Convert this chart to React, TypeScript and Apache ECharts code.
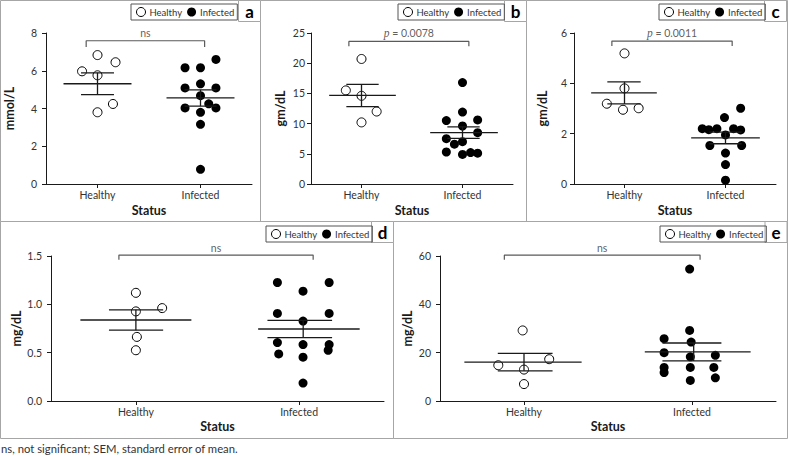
import React, { useEffect, useRef } from "react";
import * as echarts from "echarts";

// ---------- data ----------
const groups = ["Healthy", "Infected"];

// a: mmol/L
const aHealthy = [6.83, 6.45, 5.97, 5.76, 4.24, 3.8];
const aHealthyJit = [0, 0.175, -0.15, 0, 0.15, 0];
const aInfected = [6.6, 6.16, 6.16, 5.31, 5.09, 5.09, 4.68, 4.25, 4.03, 4.03, 3.8, 3.16, 0.78];
const aInfectedJit = [0.15, -0.15, 0, 0, -0.15, 0.15, 0, 0.08, -0.15, 0.15, 0, 0, 0];
const aMean = [5.31, 4.56];
const aSem = [0.58, 0.43];
const aTicks = [0, 8, 2];
const aNote = "ns";

// b: gm/dL
const bHealthy = [20.7, 15.5, 14.6, 12.0, 10.2];
const bHealthyJit = [0, -0.155, 0, 0.15, 0];
const bInfected = [16.8, 11.9, 10.5, 10.6, 9.6, 7.5, 8.5, 7.0, 6.6, 5.3, 4.9, 5.2, 5.1];
const bInfectedJit = [0, 0, -0.16, 0.15, 0, -0.16, 0.15, 0, -0.08, -0.16, 0, 0.08, 0.15];
const bMean = [14.66, 8.5];
const bSem = [1.85, 0.95];
const bTicks = [0, 25, 5];
const bNote = "0.0078";

// c: gm/dL
const cHealthy = [5.19, 3.8, 3.19, 3.01, 2.95];
const cHealthyJit = [0, 0, -0.175, 0.14, -0.015];
const cInfected = [3.01, 2.64, 2.2, 2.16, 2.2, 2.2, 2.15, 1.95, 1.53, 1.53, 1.23, 0.77, 0.15];
const cInfectedJit = [0.15, -0.01, -0.23, -0.165, -0.085, 0.08, 0.15, 0, -0.155, 0.16, 0, 0, 0];
const cMean = [3.62, 1.83];
const cSem = [0.44, 0.23];
const cTicks = [0, 6, 2];
const cNote = "0.0011";

// d: mg/dL
const dHealthy = [1.119, 0.961, 0.927, 0.663, 0.525];
const dHealthyJit = [0, 0.161, 0, 0.006, 0];
const dInfected = [1.226, 1.226, 1.136, 0.906, 0.906, 0.827, 0.604, 0.584, 0.584, 0.525, 0.487, 0.453, 0.185];
const dInfectedJit = [-0.133, 0.184, 0.024, -0.133, 0.184, 0.024, -0.133, 0.024, 0.184, 0.178, -0.125, 0.024, 0.024];
const dMean = [0.838, 0.745];
const dSem = [0.105, 0.09];
const dTicks = [0, 1.5, 0.5];
const dNote = "ns";

// e: mg/dL
const eHealthy = [29.2, 17.3, 14.8, 13.0, 7.0];
const eHealthyJit = [-0.008, 0.15, -0.153, 0, 0];
const eInfected = [54.6, 29.2, 25.8, 24.4, 20.0, 18.3, 18.9, 13.9, 11.8, 13.9, 13.9, 9.6, 8.5];
const eInfectedJit = [-0.014, -0.014, -0.166, -0.005, -0.166, -0.01, 0.139, -0.166, -0.166, -0.01, 0.13, 0.139, -0.01];
const eMean = [16.1, 20.3];
const eSem = [3.6, 3.7];
const eTicks = [0, 60, 20];
const eNote = "ns";

const footnote = "ns, not significant; SEM, standard error of mean.";

// ---------- layout / style ----------
const FONT = "Lato, 'Open Sans', sans-serif";
const panels = [
  { id: "a", unit: "mmol/L", h: aHealthy, hj: aHealthyJit, inf: aInfected, ij: aInfectedJit, mean: aMean, sem: aSem, ticks: aTicks, note: aNote,
    grid: { left: 46, top: 33, width: 206, height: 151 }, xr: [0.5, 2.5], br: [0.89, 2.04, 7.59, 7.26], nameGap: 30, lblMargin: 9,
    mw: [[-0.33, 0.33, -0.16, 0.16, 0], [-0.33, 0.33, -0.155, 0.155, 0]],
    box: [0.5, 0.5, 260, 221], tag: [238.5, 0.5], legend: [131, 4] },
  { id: "b", unit: "gm/dL", h: bHealthy, hj: bHealthyJit, inf: bInfected, ij: bInfectedJit, mean: bMean, sem: bSem, ticks: bTicks, note: bNote,
    grid: { left: 311, top: 33, width: 202, height: 151 }, xr: [0.5, 2.5], br: [0.875, 2.063, 23.6, 22.8], nameGap: 24, lblMargin: 6,
    mw: [[-0.32, 0.34, -0.15, 0.17, 0], [-0.32, 0.35, -0.15, 0.17, 0]],
    box: [260.5, 0.5, 266, 221], tag: [504.5, 0.5], legend: [398, 4] },
  { id: "c", unit: "gm/dL", h: cHealthy, hj: cHealthyJit, inf: cInfected, ij: cInfectedJit, mean: cMean, sem: cSem, ticks: cTicks, note: cNote,
    grid: { left: 574, top: 33, width: 202, height: 151 }, xr: [0.5, 2.5], br: [0.875, 2.066, 5.68, 5.48], nameGap: 25, lblMargin: 7,
    mw: [[-0.33, 0.32, -0.17, 0.16, 0], [-0.34, 0.34, -0.16, 0.16, 0]],
    box: [526.5, 0.5, 261, 221], tag: [764.5, 0.5], legend: [659, 4] },
  { id: "d", unit: "mg/dL", h: dHealthy, hj: dHealthyJit, inf: dInfected, ij: dInfectedJit, mean: dMean, sem: dSem, ticks: dTicks, note: dNote,
    grid: { left: 51, top: 256, width: 333, height: 145 }, xr: [0.48, 2.52], br: [0.896, 2.086, 1.51, 1.46], nameGap: 28, lblMargin: 9,
    mw: [[-0.34, 0.34, -0.165, 0.167, 0], [-0.251, 0.371, -0.194, 0.202, 0.025]],
    box: [0.5, 221.5, 393, 217], tag: [371.5, 221.5], legend: [266, 226] },
  { id: "e", unit: "mg/dL", h: eHealthy, hj: eHealthyJit, inf: eInfected, ij: eInfectedJit, mean: eMean, sem: eSem, ticks: eTicks, note: eNote,
    grid: { left: 440, top: 256, width: 336, height: 145 }, xr: [0.5, 2.5], br: [0.883, 2.048, 60.4, 58.4], nameGap: 26, lblMargin: 9,
    mw: [[-0.355, 0.343, -0.156, 0.17, 0], [-0.281, 0.349, -0.176, 0.175, 0.01]],
    box: [393.5, 221.5, 394, 217], tag: [765, 221.5], legend: [660, 226] },
];

const INK = "#1a1a1a";
const TXT = "#333";
const BORDER = "#a6a6a6";

function buildOption() {
  const grid: any[] = [];
  const xAxis: any[] = [];
  const yAxis: any[] = [];
  const series: any[] = [];
  const legend: any[] = [];
  const graphic: any[] = [];

  panels.forEach((p, i) => {
    grid.push({ ...p.grid, containLabel: false });
    const small = i >= 3;
    xAxis.push({
      gridIndex: i, type: "value", min: p.xr[0], max: p.xr[1],
      name: "Status", nameLocation: "middle", nameGap: small ? 19 : 20,
      nameTextStyle: { fontFamily: FONT, fontWeight: "bold", fontSize: 12.5, color: INK },
      axisLine: { show: true, onZero: false, lineStyle: { color: INK, width: 1 } },
      axisTick: { show: true, length: 4, customValues: [1, 2], lineStyle: { color: INK } },
      axisLabel: { customValues: [1, 2], formatter: (v: number) => groups[Math.round(v) - 1] ?? "",
        fontFamily: FONT, fontSize: 10.5, color: TXT, margin: 5 },
      splitLine: { show: false },
    });
    yAxis.push({
      gridIndex: i, type: "value", min: p.ticks[0], max: p.ticks[1], interval: p.ticks[2],
      name: p.unit, nameLocation: "middle", nameRotate: 90, nameGap: p.nameGap,
      nameTextStyle: { fontFamily: FONT, fontWeight: "bold", fontSize: 12.5, color: INK },
      axisLine: { show: true, lineStyle: { color: INK, width: 1 } },
      axisTick: { show: true, length: 4, lineStyle: { color: INK } },
      axisLabel: { fontFamily: FONT, fontSize: 10.5, color: TXT, margin: p.lblMargin,
        formatter: (v: number) => (p.id === "d" ? v.toFixed(1) : String(v)) },
      splitLine: { show: false },
    });

    series.push({
      name: "Healthy", type: "scatter", xAxisIndex: i, yAxisIndex: i, z: 2,
      data: p.h.map((v, k) => [1 + p.hj[k], v]),
      symbol: "circle", symbolSize: 9,
      itemStyle: { color: "#fff", borderColor: "#000", borderWidth: 1, opacity: 1 },
    });
    series.push({
      name: "Infected", type: "scatter", xAxisIndex: i, yAxisIndex: i, z: 2,
      data: p.inf.map((v, k) => [2 + p.ij[k], v]),
      symbol: "circle", symbolSize: 9,
      itemStyle: { color: "#000", opacity: 1 },
    });
    series.push({
      name: "Mean ± SEM", type: "custom", xAxisIndex: i, yAxisIndex: i, z: 3,
      data: p.mean.map((m, g) => [g + 1, m, p.sem[g], ...p.mw[g]]),
      encode: { x: 0, y: 1 },
      renderItem: (_params: any, api: any) => {
        const gx = api.value(0), m = api.value(1), s = api.value(2);
        const ml = api.value(3), mr = api.value(4), cl = api.value(5), cr = api.value(6), sx = api.value(7);
        const style = { stroke: INK, lineWidth: 1.3 };
        const seg = (x1: number, y1: number, x2: number, y2: number) => {
          const a = api.coord([x1, y1]);
          const b = api.coord([x2, y2]);
          return { type: "line", shape: { x1: a[0], y1: a[1], x2: b[0], y2: b[1] }, style };
        };
        return {
          type: "group",
          children: [
            seg(gx + ml, m, gx + mr, m),
            seg(gx + cl, m + s, gx + cr, m + s),
            seg(gx + cl, m - s, gx + cr, m - s),
            seg(gx + sx, m - s, gx + sx, m + s),
          ],
        };
      },
    });
    const [x1, x2, top, low] = p.br;
    series.push({
      name: "bracket", type: "line", xAxisIndex: i, yAxisIndex: i, clip: false, z: 1,
      data: [[x1, low], [x1, top], [x2, top], [x2, low]],
      symbol: "none", lineStyle: { color: "#5a5a5a", width: 1.2 },
    });
    const isP = p.note !== "ns";
    series.push({
      name: "note", type: "scatter", xAxisIndex: i, yAxisIndex: i, clip: false,
      data: [[(x1 + x2) / 2, top]], symbolSize: 0, silent: true,
      label: {
        show: true, position: "top", distance: 2,
        formatter: isP ? `{i|p} = ${p.note}` : p.note,
        fontFamily: FONT, fontSize: 10.5, color: TXT,
        rich: { i: { fontFamily: "'Liberation Serif', serif", fontStyle: "italic", fontSize: 11.5, color: TXT } },
      },
    });

    legend.push({
      left: p.legend[0], top: p.legend[1], orient: "horizontal",
      data: [
        { name: "Healthy", icon: "circle", itemStyle: { color: "#fff", borderColor: "#000", borderWidth: 1 } },
        { name: "Infected", icon: "circle", itemStyle: { color: "#000" } },
      ],
      selectedMode: false, borderColor: "#555", borderWidth: 1, borderRadius: 0,
      padding: [3, 3, 3, 5], itemGap: 5, itemWidth: 9, itemHeight: 9,
      textStyle: { fontFamily: FONT, fontSize: 9.5, color: TXT, padding: [0, 0, 0, -1] },
    });

    graphic.push({
      type: "rect", shape: { x: p.box[0], y: p.box[1], width: p.box[2], height: p.box[3] },
      style: { fill: "none", stroke: BORDER, lineWidth: 1 }, silent: true, z: 0,
    });
    graphic.push({
      type: "rect", shape: { x: p.tag[0], y: p.tag[1], width: 22, height: 21 },
      style: { fill: "#fff", stroke: BORDER, lineWidth: 1 }, silent: true, z: 1,
    });
    graphic.push({
      type: "text", x: p.tag[0] + 11, y: p.tag[1] + 11,
      style: { text: p.id, fontFamily: FONT, fontWeight: "bold", fontSize: 17, fill: "#000", align: "center", verticalAlign: "middle" },
      silent: true, z: 2,
    });
  });

  graphic.push({
    type: "text", x: 1, y: 448,
    style: { text: footnote, fontFamily: FONT, fontSize: 11.3, fill: TXT, align: "left", verticalAlign: "middle" },
    silent: true,
  });

  return { animation: false, backgroundColor: "#fff", grid, xAxis, yAxis, series, legend, graphic };
}

export default function App() {
  const ref = useRef<HTMLDivElement>(null);
  useEffect(() => {
    document.body.style.margin = "0";
    if (!ref.current) return;
    const chart = echarts.init(ref.current, undefined, { renderer: "svg" });
    chart.setOption(buildOption() as any);
    return () => chart.dispose();
  }, []);
  return <div ref={ref} style={{ width: 788, height: 456 }} />;
}
